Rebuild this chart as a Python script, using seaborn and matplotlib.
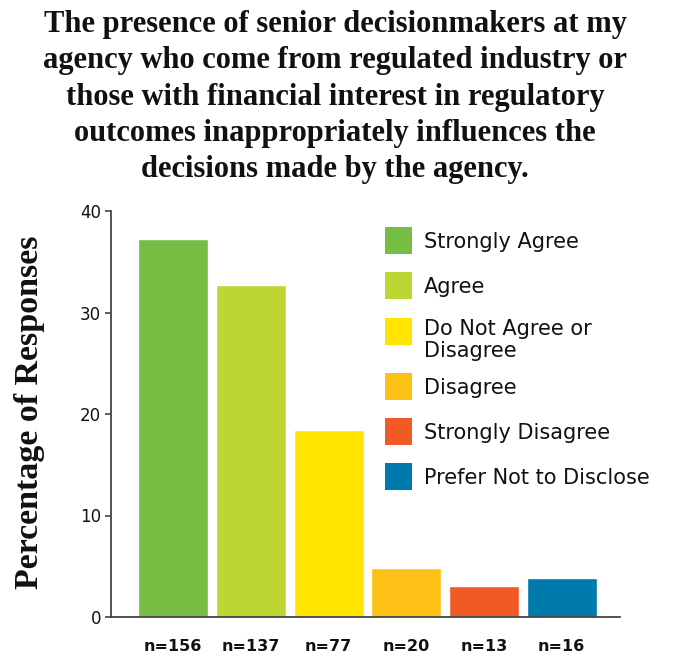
import matplotlib
matplotlib.use("Agg")
import matplotlib.pyplot as plt
from matplotlib.patches import Rectangle
import seaborn as sns
import pandas as pd

categories = ["Strongly Agree", "Agree", "Do Not Agree or\nDisagree", "Disagree",
              "Strongly Disagree", "Prefer Not to Disclose"]
percentages = [37.2, 32.7, 18.4, 4.8, 3.1, 3.8]
counts = [156, 137, 77, 20, 13, 16]
colors = ["#76BE43", "#BDD633", "#FFE500", "#FDC014", "#F15A24", "#0079AD"]
yticks = [0, 10, 20, 30, 40]

title = ("The presence of senior decisionmakers at my\n"
         "agency who come from regulated industry or\n"
         "those with financial interest in regulatory\n"
         "outcomes inappropriately influences the\n"
         "decisions made by the agency.")

sns.set_theme(style="white")
plt.rcParams["font.family"] = ["DejaVu Sans"]

W, H = 678, 656
fig = plt.figure(figsize=(W / 100, H / 100), dpi=100)
ax = fig.add_axes([111 / W, 1 - 617 / H, (620 - 111) / W, (617 - 211) / H])

df = pd.DataFrame({"cat": categories, "pct": percentages})
sns.barplot(data=df, x="cat", y="pct", hue="cat", palette=colors, legend=False,
            width=0.9, saturation=1, ax=ax)

ax.set_xlim(-0.8, 5.75)
ax.set_ylim(0, 40)
ax.set_yticks(yticks)
ax.set_yticklabels([str(t) for t in yticks], fontsize=12, color="#111111")
ax.set_xticks(range(len(counts)))
ax.set_xticklabels([f"n={n}" for n in counts], fontsize=11.5, fontweight="bold",
                   color="#111111")
ax.tick_params(axis="x", length=0, pad=16)
ax.tick_params(axis="y", length=4, width=1.2, color="#444444", pad=3, left=True)
ax.set_xlabel("")
ax.set_ylabel("")
for s in ["top", "right"]:
    ax.spines[s].set_visible(False)
for s in ["left", "bottom"]:
    ax.spines[s].set_color("#444444")
    ax.spines[s].set_linewidth(1.3)

# y-axis title in bold serif
fig.text(30 / W, 1 - 412 / H, "Percentage of Responses", rotation=90,
         ha="center", va="center", fontsize=24.5, fontweight="bold",
         family=["Liberation Serif"], color="#111111")

# headline
fig.text(335 / W, 1 - 10 / H, title, ha="center", va="top", multialignment="center",
         fontsize=22, fontweight="bold", family=["Liberation Serif"],
         linespacing=1.33, color="#111111")

# legend: colour squares with labels
sq = 27
centers = [240, 285, 331, 386, 431, 476]
for cy, lab, col in zip(centers, categories, colors):
    fig.add_artist(Rectangle((385 / W, 1 - (cy + sq / 2) / H), sq / W, sq / H,
                             transform=fig.transFigure, color=col, lw=0))
    lines = lab.split("\n")
    base = cy + 8 if len(lines) == 1 else cy + 4
    for k, line in enumerate(lines):
        fig.text(424 / W, 1 - (base + 22 * k) / H, line, ha="left", va="baseline",
                 fontsize=15, color="#111111")

fig.savefig("out.png", dpi=100)
